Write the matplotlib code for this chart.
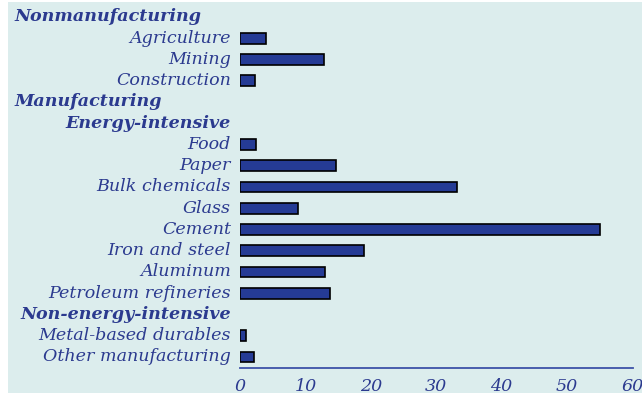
import matplotlib.pyplot as plt
import matplotlib.transforms as mtransforms
from matplotlib.patches import Rectangle

labels = ['Nonmanufacturing', 'Agriculture', 'Mining', 'Construction',
          'Manufacturing', 'Energy-intensive', 'Food', 'Paper',
          'Bulk chemicals', 'Glass', 'Cement', 'Iron and steel', 'Aluminum',
          'Petroleum refineries', 'Non-energy-intensive',
          'Metal-based durables', 'Other manufacturing']
values = [None, 4.0, 12.8, 2.3, None, None, 2.4, 14.7, 33.1, 8.9, 55.1,
          18.9, 13.0, 13.7, None, 0.9, 2.2]
# header rows: 'left' = flush left, 'right' = aligned with the category labels
headers = {'Nonmanufacturing': 'left', 'Manufacturing': 'left',
           'Energy-intensive': 'right', 'Non-energy-intensive': 'right'}
xticks = [0, 10, 20, 30, 40, 50, 60]

bg = '#dceded'
blue = '#2b3a8f'
barcol = '#253b95'

W, H = 642, 395
fig = plt.figure(figsize=(W / 100, H / 100), dpi=100, facecolor='white')
fig.patches.append(Rectangle((8 / W, 2 / H), 1 - 8 / W, (391) / H,
                             transform=fig.transFigure, facecolor=bg,
                             edgecolor='none', zorder=-10))

ax = fig.add_axes([240 / W, (H - 368) / H, (632.5 - 240) / W, (368 - 2) / H])
ax.set_facecolor('none')

font = dict(family='DejaVu Serif', style='italic', size=12.6, color=blue)

for i, (lab, v) in enumerate(zip(labels, values)):
    if v is not None:
        ax.barh(i, v, height=0.5, color=barcol, edgecolor='black', linewidth=1.2)

trans = mtransforms.blended_transform_factory(fig.transFigure, ax.transData)
for i, lab in enumerate(labels):
    if headers.get(lab) == 'left':
        ax.text(14 / W, i, lab, transform=trans, ha='left', va='center',
                fontweight='bold', **font)
    elif headers.get(lab) == 'right':
        ax.text(231 / W, i, lab, transform=trans, ha='right', va='center',
                fontweight='bold', **font)
    else:
        ax.text(231 / W, i, lab, transform=trans, ha='right', va='center', **font)

ax.set_ylim((368 - 17) / 21.25, (2 - 17) / 21.25)
ax.set_xlim(0, 60)
ax.set_xticks(xticks)
ax.set_xticklabels([str(t) for t in xticks], **font)
ax.set_yticks([])
ax.tick_params(axis='x', length=0, pad=7)
for s in ['top', 'right', 'left']:
    ax.spines[s].set_visible(False)
ax.spines['bottom'].set_color('#3d52a8')
ax.spines['bottom'].set_linewidth(1.3)

fig.savefig('out.png', dpi=100, facecolor=fig.get_facecolor())
